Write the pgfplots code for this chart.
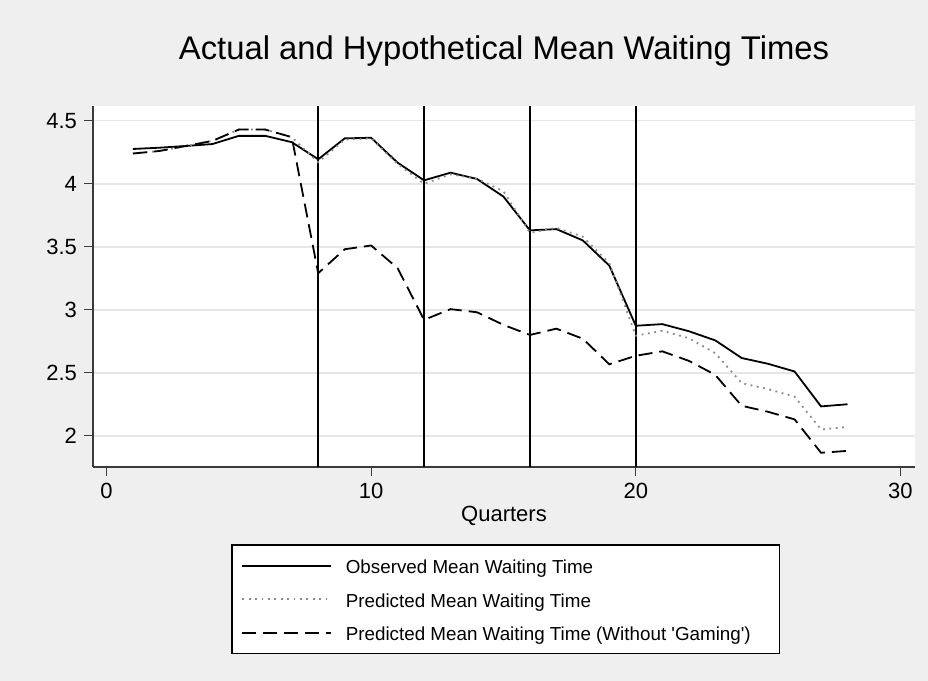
\documentclass[border=0pt]{standalone}
\usepackage{fontspec}
\setmainfont{Liberation Sans}
\usepackage{pgfplots}
\usepackage{pgfplotstable}
\pgfplotsset{compat=1.18}
\definecolor{bgray}{HTML}{EFEFEF}
\definecolor{gridc}{HTML}{E6E6E6}
\definecolor{predc}{HTML}{8A8A8A}
\definecolor{axc}{HTML}{3A3A3A}

\pgfplotstableread{
q obs pred nogame
1 4.276 4.24 4.24
2 4.286 4.26 4.26
3 4.300 4.30 4.30
4 4.315 4.34 4.34
5 4.380 4.43 4.43
6 4.380 4.43 4.43
7 4.330 4.37 4.37
8 4.194 4.17 3.29
9 4.360 4.35 3.48
10 4.365 4.36 3.51
11 4.167 4.157 3.33
12 4.027 4.00 2.92
13 4.088 4.075 3.005
14 4.038 4.04 2.98
15 3.898 3.94 2.88
16 3.630 3.61 2.80
17 3.640 3.65 2.85
18 3.550 3.58 2.77
19 3.350 3.37 2.567
20 2.873 2.794 2.635
21 2.886 2.833 2.67
22 2.830 2.775 2.595
23 2.757 2.656 2.484
24 2.617 2.418 2.238
25 2.571 2.37 2.19
26 2.510 2.31 2.13
27 2.233 2.05 1.865
28 2.250 2.07 1.88
}\datatable

\begin{document}
\begin{tikzpicture}
\path[use as bounding box, fill=bgray] (0,0) rectangle (464pt,-340.5pt);
\begin{axis}[
  at={(46.5pt,-233.5pt)}, anchor=south west,
  scale only axis, width=411pt, height=180.5pt,
  xmin=-0.51, xmax=30.55, ymin=1.752, ymax=4.617,
  axis x line*=bottom, axis y line*=left,
  axis line style={axc, line width=0.6pt},
  axis background/.style={fill=white},
  xtick={0,10,20,30}, ytick={2,2.5,3,3.5,4,4.5},
  minor tick num=0,
  tick align=outside, major tick length=4.5pt,
  tick style={axc, line width=0.6pt},
  ymajorgrids, grid style={gridc, line width=0.75pt},
  ticklabel style={font=\fontsize{11}{13}\selectfont},
  /pgf/number format/assume math mode=true,
  title={Actual and Hypothetical Mean Waiting Times},
  title style={at={(axis description cs:0.5,1.096)}, anchor=base, font=\fontsize{16.4}{20}\selectfont},
  xlabel={Quarters},
  xlabel style={at={(axis description cs:0.5,-0.1496)}, anchor=base, font=\fontsize{11}{13}\selectfont},
  legend style={at={(axis description cs:0.1679,-0.2133)}, anchor=north west,
    draw=black, line width=0.75pt, fill=white,
    inner xsep=4.85pt, inner ysep=5pt, row sep=5.95pt, column sep=7pt,
    nodes={inner sep=0pt}, cells={anchor=west},
    font=\fontsize{9.4}{11}\selectfont},
  legend image code/.code={\draw[#1] (0pt,0pt) -- (44.3pt,0pt);},
]
\addplot[forget plot, black, line width=0.9pt] coordinates {(8,1.752) (8,4.617)};
\addplot[forget plot, black, line width=0.9pt] coordinates {(12,1.752) (12,4.617)};
\addplot[forget plot, black, line width=0.9pt] coordinates {(16,1.752) (16,4.617)};
\addplot[forget plot, black, line width=0.9pt] coordinates {(20,1.752) (20,4.617)};
\addplot[black, line width=0.9pt] table[x=q, y=obs] {\datatable};
\addlegendentry{\makebox[212pt][l]{\rule[-3.35pt]{0pt}{12.7pt}Observed Mean Waiting Time}}
\addplot[predc, line width=0.9pt, dash pattern=on 0.9pt off 2.3pt] table[x=q, y=pred] {\datatable};
\addlegendentry{\makebox[212pt][l]{\rule[-3.35pt]{0pt}{12.7pt}Predicted Mean Waiting Time}}
\addplot[black, line width=0.9pt, dash pattern=on 7pt off 3.5pt] table[x=q, y=nogame] {\datatable};
\addlegendentry{\makebox[212pt][l]{\rule[-3.35pt]{0pt}{12.7pt}Predicted Mean Waiting Time (Without \textquotesingle Gaming\textquotesingle)}}
\end{axis}
\end{tikzpicture}
\end{document}
